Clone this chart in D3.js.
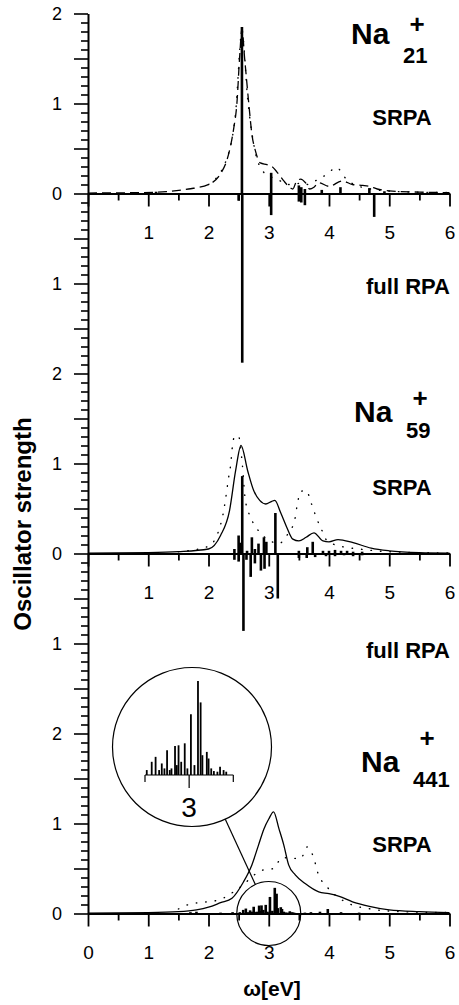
<!DOCTYPE html>
<html>
<head>
<meta charset="utf-8">
<script src="https://cdn.jsdelivr.net/npm/d3@7"></script>
<style>
  body { margin: 0; background: #fff; }
  svg { font-family: "Liberation Sans", Arial, sans-serif; }
</style>
</head>
<body>
<div id="chart"></div>
<script>
// energy axis ticks (eV) and the labels of the long stacked y axis
const energyTicks = [0, 0.5, 1, 1.5, 2, 2.5, 3, 3.5, 4, 4.5, 5, 5.5, 6];
const yTickLabels = ["2", "1", "0", "1", "2", "1", "0", "1", "2", "1", "0"];

// Na21+ : SRPA strength function (dashed), second curve (dotted), lines
const na21Curve = [[0, 0.005], [0.9, 0.01], [1.3, 0.02], [1.67, 0.05], [2.0, 0.1], [2.19, 0.21], [2.3, 0.36], [2.36, 0.51],
  [2.42, 0.73], [2.47, 0.99], [2.52, 1.55], [2.555, 1.83], [2.6, 1.5], [2.67, 0.99], [2.72, 0.66], [2.78, 0.47],
  [2.86, 0.34], [2.97, 0.32], [3.05, 0.3], [3.17, 0.21], [3.25, 0.14], [3.33, 0.08], [3.4, 0.05], [3.45, 0.12],
  [3.53, 0.16], [3.61, 0.12], [3.68, 0.05], [3.75, 0.07], [3.83, 0.12], [4.0, 0.08], [4.22, 0.14], [4.39, 0.1],
  [4.56, 0.09], [4.67, 0.08], [4.8, 0.05], [5.0, 0.03], [5.5, 0.015], [6.0, 0.01]];
const na21Dots = [[2.0, 0.1], [2.3, 0.38], [2.45, 0.9], [2.555, 1.8], [2.65, 1.05], [2.78, 0.45], [2.9, 0.25],
  [3.05, 0.18], [3.19, 0.14], [3.3, 0.1], [3.42, 0.1], [3.55, 0.12], [3.65, 0.1], [3.8, 0.15], [3.98, 0.22],
  [4.12, 0.29], [4.3, 0.15], [4.5, 0.08], [4.8, 0.04], [5.2, 0.02], [6.0, 0.01]];
const na21SrpaBars = [[1.13, 0.02], [2.555, 1.85], [3.04, 0.23], [3.5, 0.09], [3.54, 0.07], [3.6, 0.05],
  [3.88, 0.04], [4.19, 0.07], [4.67, 0.06], [4.92, 0.025]];
const na21RpaBars = [[2.5, 0.08], [2.56, 1.88], [3.04, 0.24], [3.5, 0.09], [3.54, 0.1], [3.6, 0.13], [4.75, 0.26]];

// Na59+
const na59Curve = [[0, 0.005], [1.0, 0.01], [1.5, 0.02], [2.0, 0.05], [2.2, 0.2], [2.35, 0.48], [2.45, 0.92],
  [2.54, 1.2], [2.65, 0.92], [2.75, 0.7], [2.85, 0.59], [2.95, 0.55], [3.05, 0.58], [3.1, 0.59], [3.2, 0.45],
  [3.3, 0.29], [3.4, 0.16], [3.5, 0.14], [3.62, 0.18], [3.75, 0.23], [3.9, 0.14], [4.0, 0.13], [4.15, 0.155],
  [4.4, 0.12], [4.7, 0.06], [5.0, 0.03], [5.5, 0.01], [6.0, 0.005]];
const na59Dots = [[1.5, 0.02], [2.0, 0.08], [2.22, 0.37], [2.28, 0.59], [2.33, 0.83], [2.37, 1.0], [2.39, 1.15],
  [2.44, 1.31], [2.5, 1.3], [2.56, 1.0], [2.61, 0.6], [2.7, 0.4], [2.81, 0.27], [3.0, 0.15], [3.17, 0.11],
  [3.3, 0.2], [3.43, 0.37], [3.47, 0.53], [3.53, 0.69], [3.62, 0.7], [3.71, 0.55], [3.79, 0.4], [3.88, 0.26],
  [3.97, 0.14], [4.2, 0.08], [4.5, 0.05], [5.0, 0.02], [6.0, 0.005]];
const na59SrpaBars = [[2.43, 0.05], [2.5, 0.2], [2.52, 0.12], [2.56, 0.86], [2.64, 0.03], [2.72, 0.18], [2.77, 0.05],
  [2.83, 0.11], [2.92, 0.18], [2.96, 0.13], [3.11, 0.45], [3.5, 0.03], [3.64, 0.07], [3.73, 0.13], [3.9, 0.03],
  [4.0, 0.03], [4.1, 0.04], [4.2, 0.03], [4.3, 0.03], [4.4, 0.02], [4.55, 0.02]];
const na59RpaBars = [[2.43, 0.07], [2.5, 0.09], [2.58, 0.86], [2.63, 0.07], [2.7, 0.26], [2.77, 0.11], [2.87, 0.19],
  [2.93, 0.17], [3.15, 0.5], [3.5, 0.05], [3.63, 0.05], [3.77, 0.04], [3.95, 0.03], [4.1, 0.03], [4.25, 0.02],
  [4.4, 0.03], [4.55, 0.02]];

// Na441+
const na441Curve = [[0, 0.005], [1.0, 0.01], [1.5, 0.02], [1.8, 0.04], [2.0, 0.07], [2.2, 0.12], [2.39, 0.17],
  [2.58, 0.35], [2.72, 0.54], [2.83, 0.76], [2.92, 0.94], [3.0, 1.05], [3.08, 1.13], [3.17, 0.94], [3.25, 0.76],
  [3.33, 0.54], [3.44, 0.43], [3.61, 0.33], [3.83, 0.24], [4.0, 0.22], [4.17, 0.19], [4.39, 0.13], [4.67, 0.08],
  [5.0, 0.04], [5.5, 0.02], [6.0, 0.01]];
const na441Dots = [[1.5, 0.05], [1.67, 0.1], [1.97, 0.13], [2.17, 0.15], [2.5, 0.28], [2.89, 0.48], [3.08, 0.5],
  [3.22, 0.62], [3.53, 0.61], [3.64, 0.74], [3.75, 0.61], [3.82, 0.44], [3.95, 0.31], [4.15, 0.18], [4.33, 0.11],
  [4.7, 0.05], [5.2, 0.02], [6.0, 0.01]];
const na441Bars = [[1.7, 0.015], [1.8, 0.02], [2.2, 0.01], [2.4, 0.015], [2.52, 0.015], [2.576, 0.04], [2.62, 0.055],
  [2.66, 0.015], [2.69, 0.035], [2.72, 0.02], [2.75, 0.075], [2.78, 0.015], [2.8, 0.02], [2.84, 0.088], [2.86, 0.03],
  [2.88, 0.09], [2.91, 0.04], [2.95, 0.096], [2.98, 0.02], [3.02, 0.184], [3.06, 0.03], [3.1, 0.285], [3.13, 0.22],
  [3.15, 0.06], [3.2, 0.07], [3.22, 0.05], [3.25, 0.02], [3.28, 0.012], [3.32, 0.01], [3.35, 0.025], [3.39, 0.015],
  [3.42, 0.01], [3.6, 0.01], [3.7, 0.015], [3.85, 0.02], [3.98, 0.05], [4.2, 0.015], [4.5, 0.01]];

let width = 459, height = 1005;

let svg = d3.select("#chart").append("svg")
    .attr("width", width)
    .attr("height", height);

// x in eV, and one long y axis made of 10 stacked units
let x = d3.scaleLinear().domain([0, 6]).range([88, 449.5]);
let row = d3.scaleLinear().domain([0, 10]).range([13.5, 913.5]);

let panels = [
  {zero: 2, curve: na21Curve, dots: na21Dots, up: na21SrpaBars, down: na21RpaBars, dash: "9,5"},
  {zero: 6, curve: na59Curve, dots: na59Dots, up: na59SrpaBars, down: na59RpaBars, dash: null},
  {zero: 10, curve: na441Curve, dots: na441Dots, up: na441Bars, down: [], dash: null}
];

panels.forEach(function(p) {
  let y = d3.scaleLinear().domain([0, 1]).range([row(p.zero), row(p.zero - 1)]);
  let line = d3.line()
      .x(function(d) { return x(d[0]); })
      .y(function(d) { return y(d[1]); })
      .curve(d3.curveMonotoneX);

  svg.append("path")
      .datum(p.dots)
      .attr("d", line)
      .attr("fill", "none")
      .attr("stroke", "#000")
      .attr("stroke-width", 1.4)
      .attr("stroke-linecap", "round")
      .attr("stroke-dasharray", "0.5,9");

  svg.append("path")
      .datum(p.curve)
      .attr("d", line)
      .attr("fill", "none")
      .attr("stroke", "#000")
      .attr("stroke-width", 1.3)
      .attr("stroke-dasharray", p.dash);

  // SRPA lines up, full RPA lines down
  svg.append("g").selectAll("line")
      .data(p.up)
    .enter().append("line")
      .attr("x1", function(d) { return x(d[0]); })
      .attr("x2", function(d) { return x(d[0]); })
      .attr("y1", y(0))
      .attr("y2", function(d) { return y(d[1]); })
      .attr("stroke", "#000")
      .attr("stroke-width", 2.6);

  svg.append("g").selectAll("line")
      .data(p.down)
    .enter().append("line")
      .attr("x1", function(d) { return x(d[0]); })
      .attr("x2", function(d) { return x(d[0]); })
      .attr("y1", y(0))
      .attr("y2", function(d) { return y(-d[1]); })
      .attr("stroke", "#000")
      .attr("stroke-width", 2.6);

  // energy axis of the panel
  let ax = svg.append("g")
      .attr("transform", "translate(0," + y(0) + ")")
      .call(d3.axisBottom(x)
        .tickValues(energyTicks)
        .tickSize(13)
        .tickSizeOuter(0)
        .tickFormat(function(d) {
          if (!Number.isInteger(d)) return "";
          if (d === 0 && p.zero !== 10) return "";
          return d;
        }));
  ax.select(".domain").attr("stroke-width", 2);
  ax.selectAll(".tick line")
      .attr("stroke-width", 1.8)
      .attr("y2", function(d) { return Number.isInteger(d) ? 13 : 7; });
  ax.selectAll(".tick text")
      .attr("y", 45.5)
      .attr("dy", null)
      .attr("font-size", 19)
      .attr("font-family", "Liberation Sans, Arial, sans-serif")
      .attr("fill", "#000");
});

// the stacked y axis
let yAx = svg.append("g")
    .attr("transform", "translate(" + x(0) + ",0)")
    .call(d3.axisLeft(row)
      .tickValues(d3.range(0, 101).map(function(i) { return i / 10; }))
      .tickSize(14)
      .tickSizeOuter(0)
      .tickFormat(function(d) { return Number.isInteger(d) ? yTickLabels[d] : ""; }));
yAx.select(".domain").attr("stroke-width", 2);
yAx.selectAll(".tick line")
    .attr("stroke-width", 1.6)
    .attr("x2", function(d) { return Math.round(d * 10) % 5 === 0 ? -14 : -7; });
yAx.selectAll(".tick text")
    .attr("x", -26)
    .attr("font-size", 18)
    .attr("font-family", "Liberation Sans, Arial, sans-serif")
    .attr("fill", "#000");

// cluster labels
let names = [
  {n: "21", na: 43.5, plus: 33, sub: 63.3, srpa: 125, rpa: 293.5, x: 351},
  {n: "59", na: 421.7, plus: 407, sub: 438, srpa: 495, rpa: 658, x: 354},
  {n: "441", na: 772, plus: 747, sub: 787, srpa: 852, rpa: null, x: 361}
];
names.forEach(function(d) {
  svg.append("text").attr("x", d.x).attr("y", d.na)
      .attr("font-size", 30).attr("font-weight", "bold").text("Na");
  svg.append("text").attr("x", d.x + 66).attr("y", d.plus)
      .attr("font-size", 26).attr("font-weight", "bold").attr("text-anchor", "middle").text("+");
  svg.append("text").attr("x", d.x + 52).attr("y", d.sub)
      .attr("font-size", 22).attr("font-weight", "bold").text(d.n);
  svg.append("text").attr("x", 402).attr("y", d.srpa)
      .attr("font-size", 22).attr("font-weight", "bold").attr("text-anchor", "middle").text("SRPA");
  if (d.rpa) {
    svg.append("text").attr("x", 408).attr("y", d.rpa)
        .attr("font-size", 22).attr("font-weight", "bold").attr("text-anchor", "middle").text("full RPA");
  }
});

// axis titles
svg.append("text")
    .attr("transform", "translate(31,524) rotate(-90)")
    .attr("text-anchor", "middle")
    .attr("font-size", 24)
    .attr("font-weight", "bold")
    .text("Oscillator strength");

svg.append("text")
    .attr("x", 272).attr("y", 996)
    .attr("text-anchor", "middle")
    .attr("font-size", 21)
    .attr("font-weight", "bold")
    .text("ω[eV]");

// magnified view of the Na441 lines around 3 eV
let small = {cx: x(3), cy: row(10), r: 32};
let big = {cx: 192, cy: 747, r: 79.5};
let xi = d3.scaleLinear().domain([2.5, 3.5]).range([145, 233.3]);
let yi = d3.scaleLinear().domain([0, 1]).range([775, 775 - 330]);

svg.append("circle").attr("cx", small.cx).attr("cy", small.cy).attr("r", small.r)
    .attr("fill", "none").attr("stroke", "#000").attr("stroke-width", 1.2);
svg.append("circle").attr("cx", big.cx).attr("cy", big.cy).attr("r", big.r)
    .attr("fill", "none").attr("stroke", "#000").attr("stroke-width", 1.2);

let dx = small.cx - big.cx, dy = small.cy - big.cy, len = Math.sqrt(dx * dx + dy * dy);
svg.append("line")
    .attr("x1", big.cx + dx / len * big.r).attr("y1", big.cy + dy / len * big.r)
    .attr("x2", small.cx - dx / len * small.r).attr("y2", small.cy - dy / len * small.r)
    .attr("stroke", "#000").attr("stroke-width", 1.2);

svg.append("line")
    .attr("x1", xi(2.5)).attr("x2", xi(3.5)).attr("y1", yi(0)).attr("y2", yi(0))
    .attr("stroke", "#000").attr("stroke-width", 1.2);
svg.append("g").selectAll("line")
    .data([2.5, 3, 3.5])
  .enter().append("line")
    .attr("x1", function(d) { return xi(d); })
    .attr("x2", function(d) { return xi(d); })
    .attr("y1", yi(0))
    .attr("y2", function(d) { return yi(0) + (d === 3 ? 13 : 7); })
    .attr("stroke", "#000").attr("stroke-width", 1.2);

svg.append("g").selectAll("line")
    .data(na441Bars.filter(function(d) { return d[0] >= 2.5 && d[0] <= 3.5; }))
  .enter().append("line")
    .attr("x1", function(d) { return xi(d[0]); })
    .attr("x2", function(d) { return xi(d[0]); })
    .attr("y1", yi(0))
    .attr("y2", function(d) { return yi(d[1]); })
    .attr("stroke", "#000")
    .attr("stroke-width", 1.8);

svg.append("text")
    .attr("x", xi(3)).attr("y", 816.5)
    .attr("text-anchor", "middle")
    .attr("font-size", 28)
    .text("3");
</script>
</body>
</html>
